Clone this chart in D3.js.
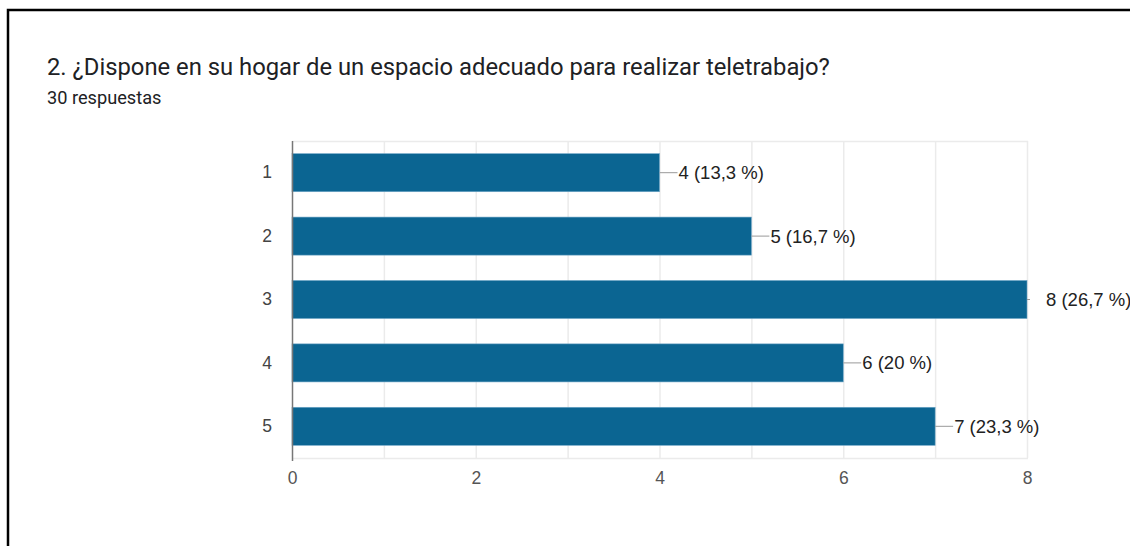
<!DOCTYPE html>
<html>
<head>
<meta charset="utf-8">
<script src="https://cdn.jsdelivr.net/npm/d3@7"></script>
<style>
  body { margin: 0; background: #fff; }
  svg { display: block; font-family: Roboto, Arial, sans-serif; }
</style>
</head>
<body>
<svg id="chart" width="1130" height="546"></svg>
<script>
const svg = d3.select('#chart')
const width = 1130
const height = 546

// datos
const categories = ['1', '2', '3', '4', '5']
const counts = [4, 5, 8, 6, 7]
const percents = ['13,3', '16,7', '26,7', '20', '23,3']
const xTicks = [0, 2, 4, 6, 8]
const title = '2. ¿Dispone en su hogar de un espacio adecuado para realizar teletrabajo?'
const subtitle = '30 respuestas'

const barColor = '#0b6592'
const gridColor = '#ebebeb'
const labelFont = '"Liberation Sans", Arial, sans-serif'
const plotLeft = 292, plotRight = 1027, plotTop = 141, plotBottom = 458

// marco negro
svg.append('path')
  .attr('d', `M8,${height + 5} L8,10 L${width + 5},10`)
  .attr('fill', 'none')
  .attr('stroke', '#000')
  .attr('stroke-width', 2.5)

svg.append('text')
  .attr('x', 47).attr('y', 75)
  .style('font-size', '23.8px')
  .style('fill', '#202124')
  .text(title)

svg.append('text')
  .attr('x', 47).attr('y', 104)
  .style('font-size', '18.2px')
  .style('fill', '#202124')
  .text(subtitle)

const x = d3.scaleLinear()
  .domain([0, 8])
  .range([plotLeft, plotRight])

const y = d3.scaleBand()
  .domain(categories)
  .range([plotTop, plotBottom])
  .paddingInner(0.4)
  .paddingOuter(0.2)

// rejilla (cada unidad)
svg.append('g')
  .selectAll('line')
  .data(d3.range(1, 9))
  .join('line')
    .attr('x1', d => x(d) + 0.5).attr('x2', d => x(d) + 0.5)
    .attr('y1', plotTop).attr('y2', plotBottom)
    .attr('stroke', gridColor)
    .attr('stroke-width', 1.5)

svg.append('line')
  .attr('x1', plotLeft).attr('x2', plotRight + 1)
  .attr('y1', plotTop + 0.5).attr('y2', plotTop + 0.5)
  .attr('stroke', gridColor).attr('stroke-width', 1.5)
svg.append('line')
  .attr('x1', plotLeft).attr('x2', plotRight + 1)
  .attr('y1', plotBottom + 0.5).attr('y2', plotBottom + 0.5)
  .attr('stroke', gridColor).attr('stroke-width', 1.5)

// barras
svg.append('g')
  .selectAll('rect')
  .data(counts)
  .join('rect')
    .attr('x', x(0))
    .attr('y', (d, i) => y(categories[i]))
    .attr('width', d => x(d) - x(0))
    .attr('height', y.bandwidth())
    .attr('fill', barColor)
    .attr('stroke', '#6fa6c6')
    .attr('stroke-width', 0.6)

// eje izquierdo
svg.append('line')
  .attr('x1', plotLeft + 0.5).attr('x2', plotLeft + 0.5)
  .attr('y1', plotTop).attr('y2', plotBottom + 3)
  .attr('stroke', '#777').attr('stroke-width', 1.5)

// etiquetas del eje y
const yAxis = d3.axisLeft(y).tickSize(0).tickPadding(20)
const gy = svg.append('g')
  .attr('transform', `translate(${plotLeft}, 0)`)
  .call(yAxis)
gy.select('.domain').remove()
gy.selectAll('text')
  .style('font-size', '17.5px')
  .style('font-family', labelFont)
  .attr('fill', '#444')

// etiquetas del eje x
const xAxis = d3.axisBottom(x).tickValues(xTicks).tickSize(0).tickPadding(14)
const gx = svg.append('g')
  .attr('transform', `translate(0, ${plotBottom})`)
  .call(xAxis)
gx.select('.domain').remove()
gx.selectAll('text')
  .style('font-size', '17.5px')
  .style('font-family', labelFont)
  .attr('fill', '#555')

// líneas guía y valores
svg.append('defs').append('clipPath').attr('id', 'plotclip')
  .append('rect')
  .attr('x', plotLeft).attr('y', plotTop)
  .attr('width', plotRight - plotLeft + 3).attr('height', plotBottom - plotTop)

svg.append('g')
  .attr('clip-path', 'url(#plotclip)')
  .selectAll('line')
  .data(counts)
  .join('line')
    .attr('x1', d => x(d))
    .attr('x2', d => x(d) + 18)
    .attr('y1', (d, i) => y(categories[i]) + y.bandwidth() / 2)
    .attr('y2', (d, i) => y(categories[i]) + y.bandwidth() / 2)
    .attr('stroke', '#999')
    .attr('stroke-width', 1)

svg.append('g')
  .selectAll('text')
  .data(counts)
  .join('text')
    .attr('x', d => x(d) + 19)
    .attr('y', (d, i) => y(categories[i]) + y.bandwidth() / 2)
    .attr('dy', '0.35em')
    .style('font-size', '18.5px')
    .style('font-family', labelFont)
    .style('fill', '#222')
    .text((d, i) => `${d} (${percents[i]} %)`)
</script>
</body>
</html>
